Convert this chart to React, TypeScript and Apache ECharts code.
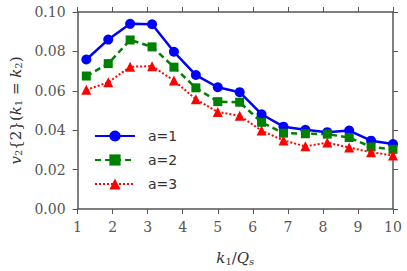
import React, { useEffect, useRef } from "react";
import * as echarts from "echarts";

const xValues = [1.25, 1.875, 2.5, 3.125, 3.75, 4.375, 5.0, 5.625, 6.25, 6.875, 7.5, 8.125, 8.75, 9.375, 10.0];
const seriesA1 = [0.0759, 0.086, 0.094, 0.0938, 0.0798, 0.068, 0.0618, 0.0593, 0.0481, 0.0418, 0.0402, 0.039, 0.0398, 0.0347, 0.033];
const seriesA2 = [0.0675, 0.0738, 0.0858, 0.0823, 0.072, 0.0615, 0.0545, 0.0542, 0.044, 0.0385, 0.0382, 0.038, 0.0363, 0.0315, 0.0303];
const seriesA3 = [0.0605, 0.0643, 0.0722, 0.0725, 0.0652, 0.0557, 0.0493, 0.0473, 0.0398, 0.0348, 0.0318, 0.0337, 0.0312, 0.0288, 0.0272];
const seriesNames = ["a=1", "a=2", "a=3"];

const axisColor = "#555";
const serif = "DejaVu Serif";

export default function App() {
  const ref = useRef<HTMLDivElement>(null);
  useEffect(() => {
    const chart = echarts.init(ref.current!, null, { renderer: "svg" });
    const pair = (ys: number[]) => xValues.map((x, i) => [x, ys[i]]);
    const tickCommon = {
      axisLine: { show: true, onZero: false, lineStyle: { color: axisColor, width: 1.5 } },
      axisTick: { show: true, inside: false, length: 5, lineStyle: { color: axisColor, width: 1 } },
      splitLine: { show: false },
    };
    const rich = {
      i: { fontFamily: serif, fontStyle: "italic", fontSize: 15, color: "#333" },
      n: { fontFamily: serif, fontSize: 15, color: "#333" },
      s: { fontFamily: serif, fontSize: 10, color: "#333", verticalAlign: "bottom", padding: [6, 0, 0, 0] },
      si: { fontFamily: serif, fontStyle: "italic", fontSize: 10, color: "#333", verticalAlign: "bottom", padding: [6, 0, 0, 0] },
    };
    chart.setOption({
      animation: false,
      grid: { left: 73, right: 14, top: 12, bottom: 59, containLabel: false },
      xAxis: [
        {
          type: "value", min: 1, max: 10, interval: 1,
          ...tickCommon,
          axisLabel: { color: axisColor, fontFamily: serif, fontSize: 14, margin: 11 },
          name: "{i|k}{s|1}{n|/}{i|Q}{si|s}",
          nameLocation: "middle",
          nameGap: 41,
          nameTextStyle: { fontFamily: serif, fontSize: 15, color: "#333", rich },
        },
        {
          type: "value", min: 1, max: 10, interval: 1, position: "top",
          ...tickCommon,
          axisLabel: { show: false },
        },
      ],
      yAxis: [
        {
          type: "value", min: 0, max: 0.1, interval: 0.02,
          ...tickCommon,
          axisLabel: { color: axisColor, fontFamily: serif, fontSize: 14, margin: 12, formatter: (v: number) => v.toFixed(2) },
          name: "{i|v}{s|2}{2}({i|k}{s|1}{n| = }{i|k}{s|2}{n|)}",
          nameLocation: "middle",
          nameGap: 44,
          nameRotate: 90,
          nameTextStyle: { fontFamily: serif, fontSize: 15, color: "#333", rich },
        },
        {
          type: "value", min: 0, max: 0.1, interval: 0.02, position: "right",
          ...tickCommon,
          axisLabel: { show: false },
        },
      ],
      legend: {
        orient: "vertical",
        left: 89,
        top: 124,
        itemWidth: 40,
        itemHeight: 14,
        itemGap: 10,
        textStyle: { fontFamily: "DejaVu Sans", fontSize: 14, color: "#333", padding: [0, 0, 0, 8] },
        data: seriesNames,
      },
      series: [
        {
          name: seriesNames[0], type: "line", data: pair(seriesA1),
          symbol: "circle", symbolSize: 10,
          lineStyle: { color: "#0000ff", width: 2.5 },
          itemStyle: { color: "#0000ff" },
        },
        {
          name: seriesNames[1], type: "line", data: pair(seriesA2),
          symbol: "rect", symbolSize: 9,
          lineStyle: { color: "#008000", width: 2.5, type: [6, 4] },
          itemStyle: { color: "#008000" },
        },
        {
          name: seriesNames[2], type: "line", data: pair(seriesA3),
          symbol: "triangle", symbolSize: 10,
          lineStyle: { color: "#ff0000", width: 2, type: [2, 2] },
          itemStyle: { color: "#ff0000" },
        },
      ],
    });
    return () => chart.dispose();
  }, []);
  return <div ref={ref} style={{ width: 407, height: 271, position: "absolute", left: 0, top: 0 }} />;
}
